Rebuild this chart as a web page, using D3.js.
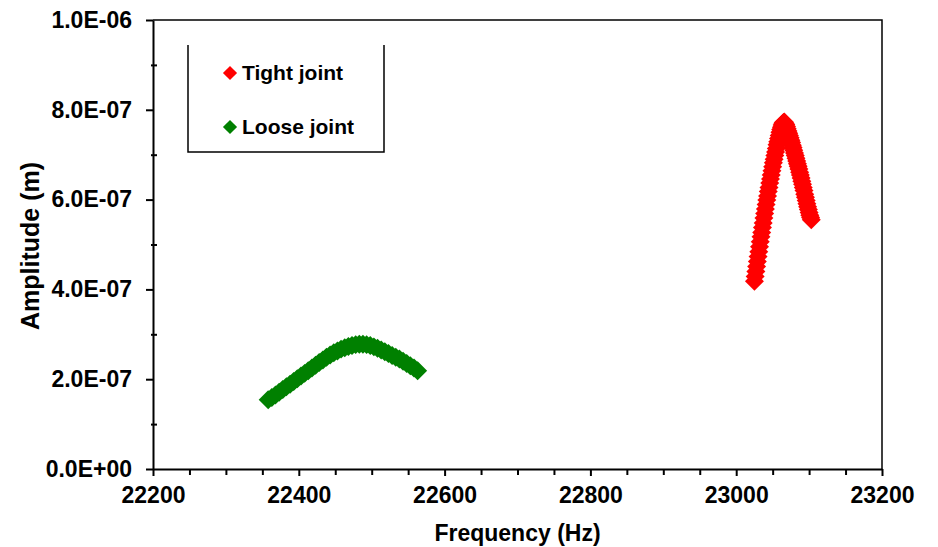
<!DOCTYPE html>
<html>
<head>
<meta charset="utf-8">
<script src="https://cdnjs.cloudflare.com/ajax/libs/d3/7.8.5/d3.min.js"></script>
<style>
  body { margin: 0; background: #fff; }
  text { font-family: "Liberation Sans", Arial, sans-serif; font-weight: bold; fill: #000; }
</style>
</head>
<body>
<svg class="chart"></svg>
<script>

// Tight joint series (frequency in Hz, amplitude in m)
var tightFreq = [23025, 23026, 23027, 23028, 23029, 23030, 23031, 23032, 23033, 23034,
                 23035, 23036, 23037, 23038, 23039, 23040, 23041, 23042, 23043, 23044,
                 23045, 23046, 23047, 23048, 23049, 23050, 23051, 23052, 23053, 23054,
                 23055, 23056, 23057, 23058, 23059, 23060, 23061, 23062, 23063, 23064,
                 23065, 23066, 23067, 23068, 23069, 23070, 23071, 23072, 23073, 23074,
                 23075, 23076, 23077, 23078, 23079, 23080, 23081, 23082, 23083, 23084,
                 23085, 23086, 23087, 23088, 23089, 23090, 23091, 23092, 23093, 23094,
                 23095, 23096, 23097, 23098, 23099, 23100, 23101, 23102, 23103];
var tightAmp = [4.18e-7, 4.29e-7, 4.40e-7, 4.51e-7, 4.62e-7, 4.73e-7, 4.84e-7, 4.95e-7, 5.06e-7, 5.17e-7,
                5.27e-7, 5.38e-7, 5.48e-7, 5.59e-7, 5.69e-7, 5.79e-7, 5.89e-7, 5.99e-7, 6.08e-7, 6.18e-7,
                6.27e-7, 6.37e-7, 6.46e-7, 6.55e-7, 6.64e-7, 6.73e-7, 6.82e-7, 6.90e-7, 6.98e-7, 7.06e-7,
                7.14e-7, 7.22e-7, 7.29e-7, 7.36e-7, 7.43e-7, 7.50e-7, 7.56e-7, 7.61e-7, 7.66e-7, 7.70e-7,
                7.72e-7, 7.73e-7, 7.70e-7, 7.67e-7, 7.63e-7, 7.58e-7, 7.53e-7, 7.48e-7, 7.43e-7, 7.38e-7,
                7.32e-7, 7.27e-7, 7.21e-7, 7.16e-7, 7.10e-7, 7.04e-7, 6.98e-7, 6.92e-7, 6.86e-7, 6.80e-7,
                6.74e-7, 6.68e-7, 6.61e-7, 6.55e-7, 6.48e-7, 6.41e-7, 6.34e-7, 6.27e-7, 6.20e-7, 6.12e-7,
                6.05e-7, 5.98e-7, 5.91e-7, 5.84e-7, 5.78e-7, 5.71e-7, 5.65e-7, 5.60e-7, 5.55e-7];

// Loose joint series
var looseFreq = [22358, 22363, 22368, 22373, 22378, 22383, 22388, 22393, 22398, 22403,
                 22408, 22413, 22418, 22423, 22428, 22433, 22438, 22443, 22448, 22453,
                 22458, 22463, 22468, 22473, 22478, 22483, 22488, 22493, 22498, 22503,
                 22508, 22513, 22518, 22523, 22528, 22533, 22538, 22543, 22548, 22553,
                 22558, 22563];
var looseAmp = [1.54e-7, 1.59e-7, 1.65e-7, 1.71e-7, 1.77e-7, 1.83e-7, 1.89e-7, 1.95e-7, 2.01e-7, 2.07e-7,
                2.13e-7, 2.19e-7, 2.25e-7, 2.31e-7, 2.37e-7, 2.43e-7, 2.49e-7, 2.54e-7, 2.59e-7, 2.63e-7,
                2.67e-7, 2.70e-7, 2.73e-7, 2.75e-7, 2.77e-7, 2.78e-7, 2.78e-7, 2.77e-7, 2.75e-7, 2.72e-7,
                2.69e-7, 2.65e-7, 2.61e-7, 2.57e-7, 2.53e-7, 2.49e-7, 2.45e-7, 2.40e-7, 2.35e-7, 2.30e-7,
                2.25e-7, 2.19e-7];

var xTicks = [22200, 22400, 22600, 22800, 23000, 23200];
var yTicks = [0, 2e-7, 4e-7, 6e-7, 8e-7, 1e-6];
var seriesNames = ["Tight joint", "Loose joint"];
var seriesColors = ["#ff0000", "#008000"];

function sci(v) {
  var parts = v.toExponential(1).split("e");
  var e = parts[1];
  var sign = e[0] === "-" ? "-" : "+";
  var digits = e.replace(/[+-]/, "");
  if (digits.length < 2) digits = "0" + digits;
  return parts[0] + "E" + sign + digits;
}

function zip(fs, as) {
  return fs.map(function(f, i) { return { f: f, a: as[i] }; });
}

drawChart();

function drawChart() {
  var svgWidth = 938, svgHeight = 547;
  var margin = { top: 20, right: 56, bottom: 78, left: 153 };
  var width = svgWidth - margin.left - margin.right;
  var height = svgHeight - margin.top - margin.bottom;

  var svg = d3.select("svg.chart")
      .attr("width", svgWidth)
      .attr("height", svgHeight);

  var g = svg.append("g")
      .attr("transform", "translate(" + margin.left + "," + margin.top + ")");

  var x = d3.scaleLinear().domain([22200, 23200]).range([0, width]);
  var y = d3.scaleLinear().domain([0, 1e-6]).range([height, 0]);

  // plot frame (top + right)
  g.append("path")
      .attr("d", "M0,0H" + width + "V" + height)
      .attr("fill", "none")
      .attr("stroke", "#000")
      .attr("stroke-width", 1.5);

  // minor ticks
  var xMinor = d3.range(22250, 23200, 50).filter(function(v) { return v % 200 !== 0; });
  g.append("g")
      .attr("transform", "translate(0," + height + ")")
      .call(d3.axisBottom(x).tickValues(xMinor).tickSize(6).tickFormat(""))
      .call(function(s) { s.select(".domain").remove(); })
      .selectAll("line").attr("stroke-width", 2);

  var yMinor = [1e-7, 3e-7, 5e-7, 7e-7, 9e-7];
  g.append("g")
      .call(d3.axisLeft(y).tickValues(yMinor).tickSize(0).tickFormat(""))
      .call(function(s) { s.select(".domain").remove(); })
      .selectAll(".tick line").attr("x1", -2).attr("x2", 4).attr("stroke-width", 2);

  // x axis
  var xAxis = g.append("g")
      .attr("transform", "translate(0," + height + ")")
      .call(d3.axisBottom(x).tickValues(xTicks).tickSize(7).tickPadding(11).tickSizeOuter(0).tickFormat(d3.format("d")));
  xAxis.select(".domain").attr("stroke-width", 2);
  xAxis.selectAll("line").attr("stroke-width", 2);
  xAxis.selectAll("text").style("font-size", "23px");

  // y axis
  var yAxis = g.append("g")
      .call(d3.axisLeft(y).tickValues(yTicks).tickSize(7).tickPadding(14).tickSizeOuter(0).tickFormat(sci));
  yAxis.select(".domain").attr("stroke-width", 2);
  yAxis.selectAll("line").attr("stroke-width", 2);
  yAxis.selectAll("text").style("font-size", "23px");

  // axis titles
  svg.append("text")
      .attr("x", margin.left + width / 2)
      .attr("y", 541)
      .attr("text-anchor", "middle")
      .style("font-size", "23px")
      .text("Frequency (Hz)");

  svg.append("text")
      .attr("transform", "translate(39," + 246 + ") rotate(-90)")
      .attr("text-anchor", "middle")
      .style("font-size", "25px")
      .text("Amplitude (m)");

  // series markers
  var marker = d3.symbol().type(d3.symbolSquare).size(180);
  var series = [zip(tightFreq, tightAmp), zip(looseFreq, looseAmp)];

  series.forEach(function(data, i) {
    g.append("g")
        .selectAll("path")
        .data(data)
        .enter().append("path")
        .attr("d", marker)
        .attr("fill", seriesColors[i])
        .attr("transform", function(d) {
          return "translate(" + x(d.f) + "," + y(d.a) + ") rotate(45)";
        });
  });

  // legend
  var legMarker = d3.symbol().type(d3.symbolSquare).size(100);
  var leg = svg.append("g").attr("transform", "translate(188,45)");
  leg.append("path")
      .attr("d", "M0,0V107H196V0")
      .attr("fill", "none")
      .attr("stroke", "#000")
      .attr("stroke-width", 1.5);

  seriesNames.forEach(function(name, i) {
    var row = leg.append("g").attr("transform", "translate(0," + (28 + i * 54) + ")");
    row.append("path")
        .attr("d", legMarker)
        .attr("fill", seriesColors[i])
        .attr("transform", "translate(42,0) rotate(45)");
    row.append("text")
        .attr("x", 54)
        .attr("dy", "0.35em")
        .style("font-size", "21px")
        .text(name);
  });
}
</script>
</body>
</html>
